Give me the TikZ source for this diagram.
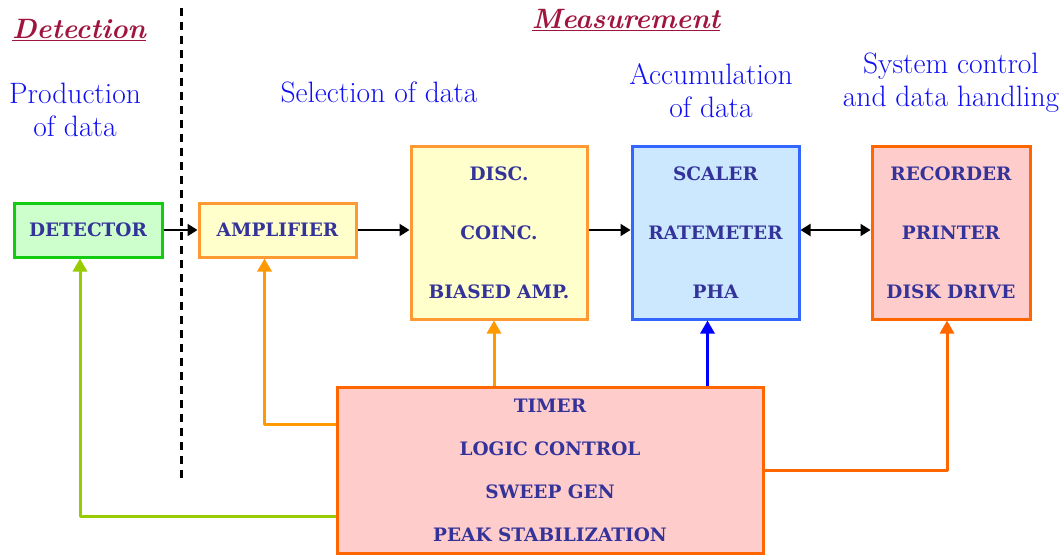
\documentclass[tikz,border=0pt]{standalone}
\usepackage{fontspec}
\newfontfamily\boxfont{DejaVu Serif}
\usetikzlibrary{arrows.meta}
\definecolor{titlered}{HTML}{A0153E}
\definecolor{headblue}{HTML}{1010F5}
\definecolor{boxtext}{HTML}{333399}
\definecolor{detborder}{HTML}{11CC11}
\definecolor{detfill}{HTML}{CCFFCC}
\definecolor{ampborder}{HTML}{FF9933}
\definecolor{ampfill}{HTML}{FFFFCC}
\definecolor{scalborder}{HTML}{3366FF}
\definecolor{scalfill}{HTML}{CCE8FF}
\definecolor{recborder}{HTML}{FF6600}
\definecolor{recfill}{HTML}{FFCCCC}
\definecolor{greenline}{HTML}{99CC00}
\definecolor{orangeline}{HTML}{FF9900}
\tikzset{
  blockbox/.style={draw,line width=3pt,text=boxtext,align=center,inner sep=0pt,
    font=\boxfont\fontsize{18.5}{22}\selectfont\bfseries},
  heading/.style={text=headblue,align=center,inner sep=0pt,
    font=\fontsize{29.5}{33}\selectfont},
  phase/.style={text=titlered,inner sep=0pt,
    font=\fontsize{28}{32}\selectfont\bfseries\itshape},
  flow/.style={->,line width=2pt,>={Triangle[length=10pt,width=12pt]}},
  feed/.style={->,line width=3pt,line join=round,>={Triangle[length=13pt,width=14pt]}}
}
\begin{document}
\begin{tikzpicture}[x=1pt,y=-1pt]
\useasboundingbox[fill=white] (0,0) rectangle (1062,556);
% phase titles and divider
\node[phase] (tdet) at (79,30) {\underline{Detection}};
\node[phase] (tmeas) at (626,20) {\underline{Measurement}};
\draw[line width=3pt,dash pattern=on 8pt off 6pt] (181,8) -- (181,478);
% stage headings
\node[heading] (hprod) at (75,110) {Production\\of data};
\node[heading] (hsel) at (379,92) {Selection of data};
\node[heading] (hacc) at (711,91) {Accumulation\\of data};
\node[heading] (hsys) at (951,83) {System control\\and data handling};
% blocks
\node[blockbox,draw=detborder,fill=detfill,minimum width=148,minimum height=54] (det) at (88,230) {DETECTOR};
\node[blockbox,draw=ampborder,fill=ampfill,minimum width=157,minimum height=54] (amp) at (277.5,230) {AMPLIFIER};
\node[blockbox,draw=ampborder,fill=ampfill,minimum width=176,minimum height=172] (disc) at (499,233)
  {DISC.\\[37pt]COINC.\\[37pt]BIASED AMP.};
\node[blockbox,draw=scalborder,fill=scalfill,minimum width=167,minimum height=172] (scal) at (715.5,233)
  {SCALER\\[37pt]RATEMETER\\[37pt]PHA};
\node[blockbox,draw=recborder,fill=recfill,minimum width=158,minimum height=172] (rec) at (951,233)
  {RECORDER\\[37pt]PRINTER\\[37pt]DISK DRIVE};
\node[blockbox,draw=recborder,fill=recfill,minimum width=426,minimum height=166] (timer) at (550,470)
  {TIMER\\[21pt]LOGIC CONTROL\\[21pt]SWEEP GEN\\[21pt]PEAK STABILIZATION};
% signal chain
\draw[flow] (det) -- (amp);
\draw[flow] (amp.east) -- (amp.east -| disc.west);
\draw[flow] (disc.east |- amp.east) -- (scal.west |- amp.east);
\draw[flow,<->] (scal.east |- amp.east) -- (rec.west |- amp.east);
% control lines
\draw[feed,greenline] ([yshift=-46pt]timer.west) -| ([xshift=-8pt]det.south);
\draw[feed,orangeline] ([yshift=46pt]timer.west) -| ([xshift=-13pt]amp.south);
\draw[feed,orangeline] ([xshift=-5pt]disc.south |- timer.north) -- ([xshift=-5pt]disc.south);
\draw[feed,blue] ([xshift=-8pt]scal.south |- timer.north) -- ([xshift=-8pt]scal.south);
\draw[feed,recborder] (timer.east) -| ([xshift=-4pt]rec.south);
\end{tikzpicture}
\end{document}
